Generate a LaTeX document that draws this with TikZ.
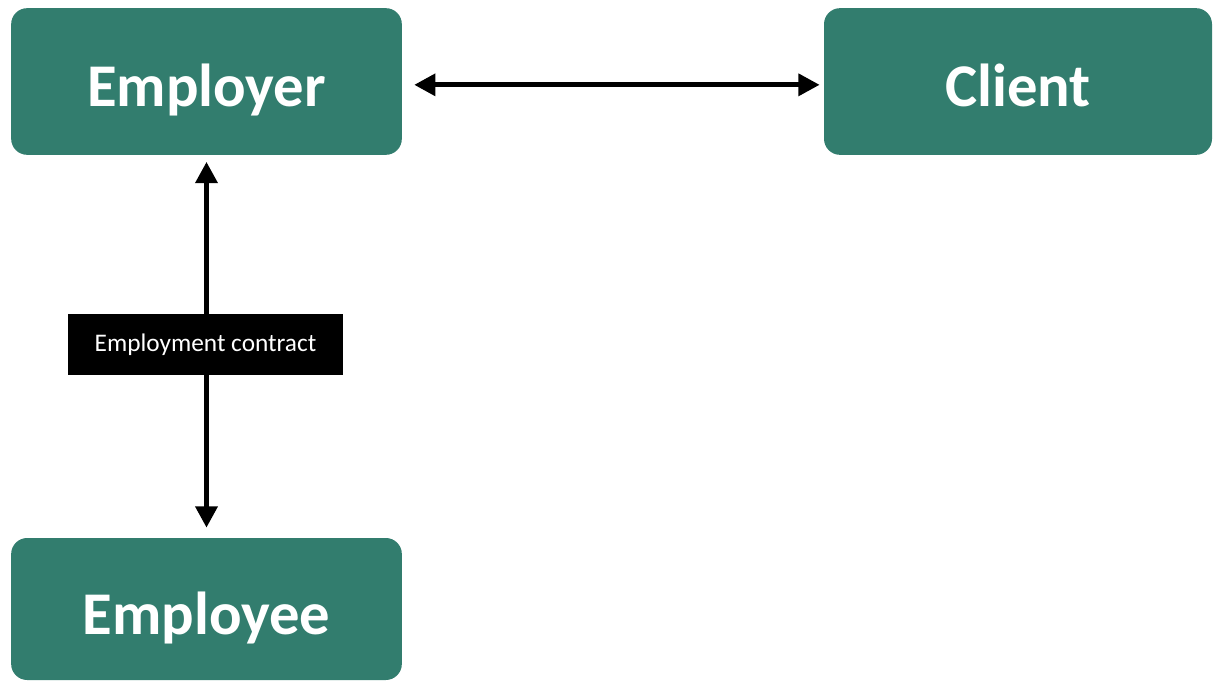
\documentclass[tikz,border=0pt]{standalone}
\usepackage{fontspec}
\setmainfont{Carlito}
\usepackage{xcolor}
\usetikzlibrary{arrows.meta,positioning}
\definecolor{partyteal}{HTML}{327D6E}

\begin{document}
\begin{tikzpicture}[x=0.75pt,y=-0.75pt,
		party/.style={fill=partyteal, rounded corners=12pt, inner sep=0pt,
			minimum width=293pt, minimum height=110pt, text=white,
			font=\fontsize{45.5}{50}\selectfont\bfseries, text height=38pt, text depth=0pt},
		tag/.style={fill=black, inner sep=0pt, minimum width=206pt, minimum height=46pt,
			text=white, font=\fontsize{19}{21}\selectfont},
		link/.style={line width=4pt, {Triangle[length=16pt,width=16pt]}-{Triangle[length=16pt,width=16pt]}}]
		\useasboundingbox (0,0) rectangle (1213,681);
		\node [party] (employer) at (206.5,81.5) {Employer};
		\node [party, minimum width=291pt] (client) at (1018,81.5) {Client};
		\node [party, minimum height=106.5pt] (employee) at (206.5,609) {Employee};
		\draw [link, shorten <=9pt, shorten >=3pt] ([yshift=-2.5pt]employer.east) -- ([yshift=-2.5pt]client.west);
		\draw [link, shorten <=5pt, shorten >=7.5pt] (employer.south) -- (employee.north);
		\node [tag] (contract) at (205.5,344.5) {Employment contract};
	\end{tikzpicture}
\end{document}
